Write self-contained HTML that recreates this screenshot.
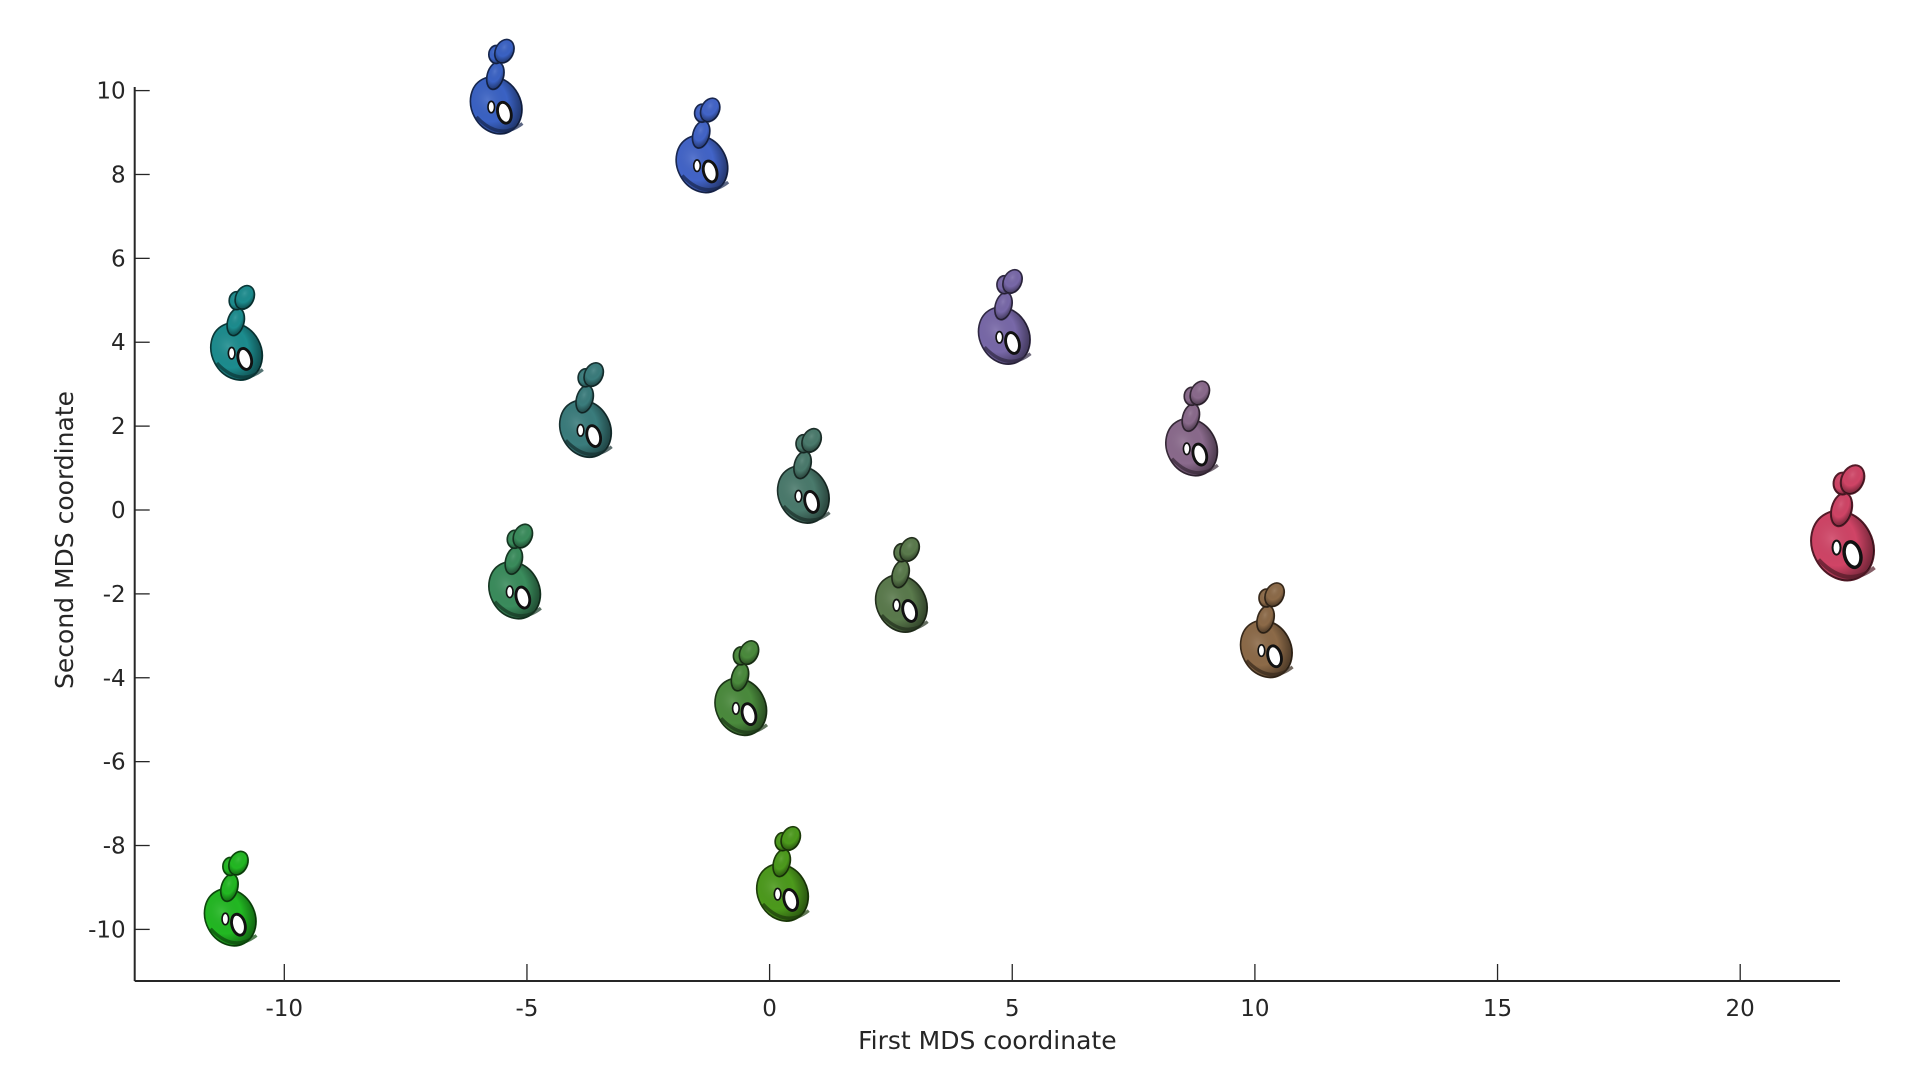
<!DOCTYPE html>
<html><head><meta charset="utf-8"><style>
html,body{margin:0;padding:0;background:#fff;}
svg text{font-family:"DejaVu Sans","Liberation Sans",sans-serif;fill:#262626;}
</style></head><body>
<svg id="chart" width="1920" height="1080" viewBox="0 0 1920 1080">
<defs>
<radialGradient id="shade" cx="40%" cy="35%" r="70%">
<stop offset="0" stop-color="#fff" stop-opacity="0.12"/>
<stop offset="0.55" stop-color="#000" stop-opacity="0"/>
<stop offset="1" stop-color="#000" stop-opacity="0.5"/>
</radialGradient>
</defs>
<g id="axes"></g>
<g id="marks"></g>
</svg>
<script>
const labels = ["s1","s2","s3","s4","s5","s6","s7","s8","s9","s10","s11","s12","s13","s14"];
const xVals = [-5.6,-1.36,-10.95,4.87,-3.76,8.73,0.73,22.15,-5.22,2.75,10.27,-0.56,-11.08,0.30];
const yVals = [10.0,8.6,4.13,4.51,2.29,1.85,0.72,-0.42,-1.56,-1.88,-2.96,-4.34,-9.36,-8.77];
const colors = ["#3a62c4","#4264c8","#1c8c8e","#7868a8","#3a7c7c","#8a6a8c","#4a7a6c","#d04466","#3a8c5c","#5a7a4c","#8c6a48","#4a8a3c","#22b822","#4c9a1c"];
const xTicks = [-10,-5,0,5,10,15,20];
const yTicks = [-10,-8,-6,-4,-2,0,2,4,6,8,10];
const L=134.7,R=1840,T=87,B=981;
const ppx=48.53, ppy=41.94;
function sx(v){return 769.6+v*ppx;}
function sy(v){return 510+(-v)*ppy;}
const NS="http://www.w3.org/2000/svg";
const axes=document.getElementById('axes');
const marks=document.getElementById('marks');
function mk(tag,attrs,parent){const e=document.createElementNS(NS,tag);for(const k in attrs)e.setAttribute(k,attrs[k]);parent.appendChild(e);return e;}
const xl=mk('line',{x1:L,y1:B,x2:R,y2:B,stroke:'#262626','stroke-width':2},axes);


const yl=mk('line',{x1:L,y1:T,x2:L,y2:B,stroke:'#262626','stroke-width':2},axes);


xTicks.forEach(v=>{
 const t=mk('line',{x1:sx(v),y1:B,x2:sx(v),y2:B-17,stroke:'#262626','stroke-width':1.3},axes);
 
 
 const tx=mk('text',{x:sx(v),y:B+35,'text-anchor':'middle','font-size':23},axes);
 tx.textContent=String(v);
 
 
});
yTicks.forEach(v=>{
 const t=mk('line',{x1:L,y1:sy(v),x2:L+15,y2:sy(v),stroke:'#262626','stroke-width':1.3},axes);
 
 
 const tx=mk('text',{x:L-9,y:sy(v)+8,'text-anchor':'end','font-size':23},axes);
 tx.textContent=String(v);
 
 
});
const xt=mk('text',{x:(L+R)/2,y:1049,'text-anchor':'middle','font-size':25},axes);
xt.textContent='First MDS coordinate';


const yt=mk('text',{x:0,y:0,'text-anchor':'middle','font-size':25,transform:'translate(73,540) rotate(-90)'},axes);
yt.textContent='Second MDS coordinate';


function darker(hex,f){const n=parseInt(hex.slice(1),16);const r=(n>>16)*f,g=((n>>8)&255)*f,b=(n&255)*f;return `rgb(${r|0},${g|0},${b|0})`;}
xVals.forEach((xv,i)=>{
 const s = i===7 ? 1.0 : 0.82;
 const g=mk('g',{transform:`translate(${sx(xv)},${sy(yVals[i])}) scale(${s})`},marks);
 
 
 const c=colors[i], d=darker(c,0.4);
 const parts=[
  ['ellipse',{cx:-2,cy:18,rx:30,ry:36,transform:'rotate(-28 -2 18)'}],
  ['ellipse',{cx:-3,cy:-18,rx:10,ry:17,transform:'rotate(15 -3 -18)'}],
  ['ellipse',{cx:-2,cy:-44,rx:9,ry:11}],
  ['ellipse',{cx:8,cy:-48,rx:11,ry:15,transform:'rotate(25 8 -48)'}],
 ];
 parts.forEach(p=>{
  mk(p[0],Object.assign({fill:c,stroke:d,'stroke-width':2},p[1]),g);
  mk(p[0],Object.assign({fill:'url(#shade)'},p[1]),g);
 });
 mk('ellipse',{cx:8,cy:27,rx:8,ry:13,fill:'#fff',stroke:'#111','stroke-width':3.5,transform:'rotate(-15 8 27)'},g);
 mk('ellipse',{cx:-8,cy:20,rx:4,ry:7,fill:'#fff',stroke:'#111','stroke-width':2},g);
 mk('path',{d:'M-26 32 Q2 62 30 40',fill:'none',stroke:d,'stroke-width':4,opacity:0.7},g);
});
</script>
</body></html>
